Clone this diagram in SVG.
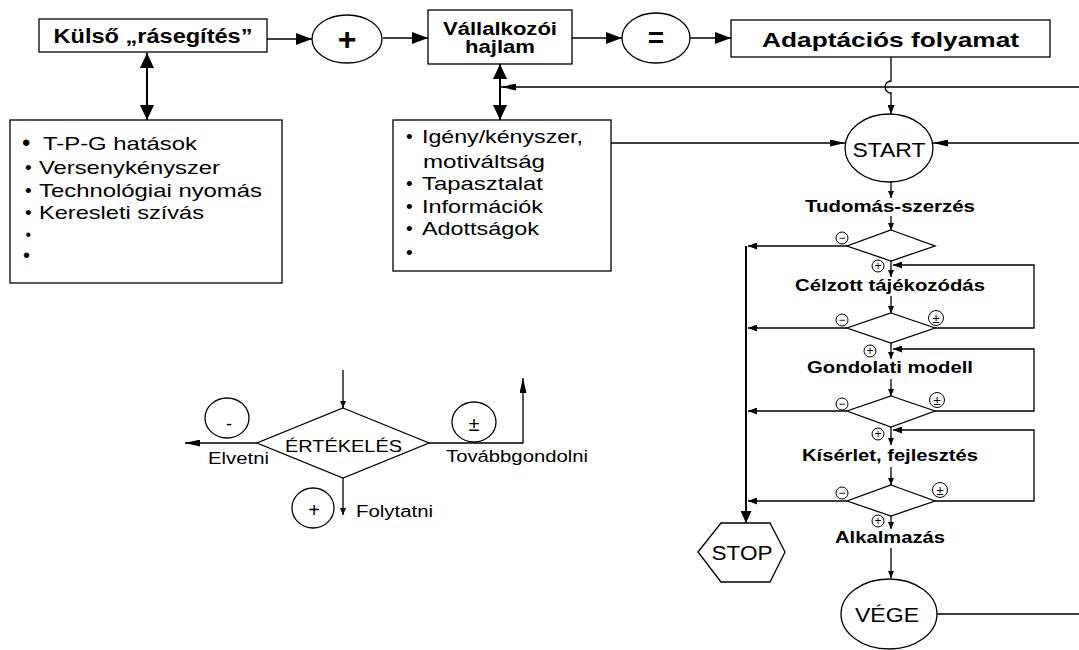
<svg xmlns="http://www.w3.org/2000/svg" width="1079" height="650" viewBox="0 0 1079 650">
<style>
text{font-family:"Liberation Sans",Arial,sans-serif;fill:#000}
.b{font-weight:bold}
.m{text-anchor:middle}
.shape{fill:#fff;stroke:#000;stroke-width:1.3}
.ln{fill:none;stroke:#000;stroke-width:1.3}
.thk{fill:none;stroke:#000;stroke-width:2}
.sc{fill:#fff;stroke:#000;stroke-width:1}
.st{font-size:12px;text-anchor:middle}
</style>
<defs>
<marker id="big" viewBox="0 0 16 12" refX="16" refY="6" markerWidth="16" markerHeight="12" markerUnits="userSpaceOnUse" orient="auto-start-reverse"><path d="M0,0 L16,6 L0,12 z"/></marker>
<marker id="dbl" viewBox="0 0 15 14" refX="15" refY="7" markerWidth="15" markerHeight="14" markerUnits="userSpaceOnUse" orient="auto-start-reverse"><path d="M0,0 L15,7 L0,14 z"/></marker>
<marker id="long" viewBox="0 0 15 7" refX="15" refY="3.5" markerWidth="15" markerHeight="7" markerUnits="userSpaceOnUse" orient="auto-start-reverse"><path d="M0,0 L15,3.5 L0,7 z"/></marker>
<marker id="med" viewBox="0 0 9 7" refX="9" refY="3.5" markerWidth="9" markerHeight="7" markerUnits="userSpaceOnUse" orient="auto-start-reverse"><path d="M0,0 L9,3.5 L0,7 z"/></marker>
<marker id="sm" viewBox="0 0 7 6" refX="7" refY="3" markerWidth="7" markerHeight="6" markerUnits="userSpaceOnUse" orient="auto-start-reverse"><path d="M0,0 L7,3 L0,6 z"/></marker>
<marker id="stopm" viewBox="0 0 12 11" refX="12" refY="5.5" markerWidth="12" markerHeight="11" markerUnits="userSpaceOnUse" orient="auto-start-reverse"><path d="M0,0 L12,5.5 L0,11 z"/></marker>
</defs>

<g id="connectors">
<line class="ln" x1="267" y1="39" x2="312" y2="39" marker-end="url(#big)"/>
<line class="ln" x1="383" y1="38" x2="428" y2="38" marker-end="url(#big)"/>
<line class="ln" x1="572" y1="38" x2="622" y2="38" marker-end="url(#big)"/>
<line class="ln" x1="690" y1="38" x2="731" y2="38" marker-end="url(#big)"/>
<path class="ln" d="M891,57 V81 A6,6 0 0,0 891,93 V114" marker-end="url(#med)"/>
<path class="ln" d="M1079,87 H501" marker-end="url(#long)"/>
<line class="thk" x1="147" y1="53" x2="147" y2="120" marker-start="url(#dbl)" marker-end="url(#dbl)"/>
<line class="thk" x1="500" y1="64" x2="500" y2="120" marker-start="url(#dbl)" marker-end="url(#dbl)"/>
<line class="ln" x1="611" y1="143" x2="845" y2="143" marker-end="url(#long)"/>
<line class="ln" x1="1079" y1="143" x2="933" y2="143" marker-end="url(#long)"/>
<line class="ln" x1="891" y1="182" x2="891" y2="198" marker-end="url(#sm)"/>
<line class="ln" x1="891" y1="216" x2="891" y2="230" marker-end="url(#sm)"/>
<line class="ln" x1="891" y1="261" x2="891" y2="277" marker-end="url(#sm)"/>
<line class="ln" x1="891" y1="296" x2="891" y2="313" marker-end="url(#sm)"/>
<line class="ln" x1="891" y1="343" x2="891" y2="359" marker-end="url(#sm)"/>
<line class="ln" x1="891" y1="379" x2="891" y2="396" marker-end="url(#sm)"/>
<line class="ln" x1="891" y1="427" x2="891" y2="445" marker-end="url(#sm)"/>
<line class="ln" x1="891" y1="467" x2="891" y2="485" marker-end="url(#sm)"/>
<line class="ln" x1="891" y1="516" x2="891" y2="529" marker-end="url(#sm)"/>
<line class="ln" x1="891" y1="548" x2="891" y2="578" marker-end="url(#sm)"/>
<path class="ln" d="M847,246 H748" marker-end="url(#med)"/>
<path class="ln" d="M847,328 H748" marker-end="url(#med)"/>
<path class="ln" d="M847,411 H748" marker-end="url(#med)"/>
<path class="ln" d="M847,501 H748" marker-end="url(#med)"/>
<path class="thk" d="M746,246 V523" marker-end="url(#stopm)"/>
<path class="ln" d="M935,328 H1034 V265 H893" marker-end="url(#med)"/>
<path class="ln" d="M935,411 H1034 V349 H893" marker-end="url(#med)"/>
<path class="ln" d="M935,501 H1034 V430 H893" marker-end="url(#med)"/>
<path class="ln" d="M937,614 H1079"/>
<path class="ln" d="M343,370 V408" marker-end="url(#sm)"/>
<path class="ln" d="M257,443 H185" marker-end="url(#long)"/>
<path class="ln" d="M429,443 H523 V378" marker-end="url(#long)"/>
<path class="ln" d="M343,478 V515" marker-end="url(#sm)"/>
</g>

<g id="n-kulso">
<rect class="shape" x="39" y="19" width="228" height="33"/>
<text class="b m" x="153" y="43" font-size="19.5" textLength="199" lengthAdjust="spacingAndGlyphs">Külső „rásegítés”</text>
</g>
<g id="n-plus">
<ellipse class="shape" cx="347" cy="39" rx="35" ry="24"/>
<text class="b m" x="347" y="50" font-size="32">+</text>
</g>
<g id="n-vallalkozoi">
<rect class="shape" x="428" y="10" width="144" height="54"/>
<text class="b m" x="500" y="35" font-size="18" textLength="114" lengthAdjust="spacingAndGlyphs">Vállalkozói</text>
<text class="b m" x="500" y="53" font-size="18" textLength="70" lengthAdjust="spacingAndGlyphs">hajlam</text>
</g>
<g id="n-equals">
<ellipse class="shape" cx="656" cy="38" rx="34" ry="25"/>
<text class="b m" x="656" y="47" font-size="28">=</text>
</g>
<g id="n-adaptacios">
<rect class="shape" x="731" y="20" width="319" height="37"/>
<text class="b m" x="890.5" y="47" font-size="21" textLength="257" lengthAdjust="spacingAndGlyphs">Adaptációs folyamat</text>
</g>

<g id="n-kulso-list">
<rect class="shape" x="10" y="120" width="272" height="163"/>
<text x="22" y="151" font-size="24">•</text>
<text x="43" y="150" font-size="19" textLength="154" lengthAdjust="spacingAndGlyphs">T-P-G hatások</text>
<text x="25" y="174" font-size="19">•</text>
<text x="39" y="174" font-size="19" textLength="181" lengthAdjust="spacingAndGlyphs">Versenykényszer</text>
<text x="25" y="197" font-size="19">•</text>
<text x="39" y="197" font-size="19" textLength="223" lengthAdjust="spacingAndGlyphs">Technológiai nyomás</text>
<text x="25" y="219" font-size="19">•</text>
<text x="39" y="219" font-size="19" textLength="165" lengthAdjust="spacingAndGlyphs">Keresleti szívás</text>
<text x="25.5" y="240" font-size="16">•</text>
<text x="23" y="262" font-size="20">•</text>
</g>

<g id="n-hajlam-list">
<rect class="shape" x="393" y="120" width="218" height="151"/>
<text x="406" y="143" font-size="19">•</text>
<text x="422" y="143" font-size="19" textLength="161" lengthAdjust="spacingAndGlyphs">Igény/kényszer,</text>
<text x="423" y="168" font-size="19" textLength="122" lengthAdjust="spacingAndGlyphs">motiváltság</text>
<text x="406" y="190" font-size="19">•</text>
<text x="422" y="190" font-size="19" textLength="121" lengthAdjust="spacingAndGlyphs">Tapasztalat</text>
<text x="406" y="213" font-size="19">•</text>
<text x="422" y="213" font-size="19" textLength="121" lengthAdjust="spacingAndGlyphs">Információk</text>
<text x="406" y="235" font-size="19">•</text>
<text x="422" y="235" font-size="19" textLength="117" lengthAdjust="spacingAndGlyphs">Adottságok</text>
<text x="406" y="259" font-size="19">•</text>
</g>

<g id="n-start">
<ellipse class="shape" cx="889" cy="148" rx="44" ry="34"/>
<text class="m" x="889" y="157" font-size="20" textLength="73" lengthAdjust="spacingAndGlyphs">START</text>
</g>
<g id="n-tudomas">
<text class="b m" x="890" y="212" font-size="16.5" textLength="170" lengthAdjust="spacingAndGlyphs">Tudomás-szerzés</text>
</g>
<g id="n-d1">
<polygon class="shape" points="891,230 935,246 891,261 847,246"/>
<circle class="sc" cx="842" cy="238" r="6"/><text class="st" x="842" y="242">−</text>
<circle class="sc" cx="878" cy="266" r="6"/><text class="st" x="878" y="270">+</text>
</g>
<g id="n-celzott">
<text class="b m" x="890" y="291" font-size="16.5" textLength="190" lengthAdjust="spacingAndGlyphs">Célzott tájékozódás</text>
</g>
<g id="n-d2">
<polygon class="shape" points="891,313 935,328 891,343 847,328"/>
<circle class="sc" cx="842" cy="320" r="6"/><text class="st" x="842" y="324">−</text>
<circle class="sc" cx="936" cy="318" r="7.5"/><text class="m" x="936" y="323" font-size="13">±</text>
<circle class="sc" cx="870" cy="351" r="6"/><text class="st" x="870" y="355">+</text>
</g>
<g id="n-gondolati">
<text class="b m" x="890" y="373" font-size="16.5" textLength="166" lengthAdjust="spacingAndGlyphs">Gondolati modell</text>
</g>
<g id="n-d3">
<polygon class="shape" points="891,396 935,411 891,427 847,411"/>
<circle class="sc" cx="842" cy="404" r="6"/><text class="st" x="842" y="408">−</text>
<circle class="sc" cx="937" cy="400" r="7.5"/><text class="m" x="937" y="405" font-size="13">±</text>
<circle class="sc" cx="878" cy="434" r="6"/><text class="st" x="878" y="438">+</text>
</g>
<g id="n-kiserlet">
<text class="b m" x="890" y="461" font-size="16.5" textLength="176" lengthAdjust="spacingAndGlyphs">Kísérlet, fejlesztés</text>
</g>
<g id="n-d4">
<polygon class="shape" points="891,485 935,501 891,516 847,501"/>
<circle class="sc" cx="842" cy="493" r="6"/><text class="st" x="842" y="497">−</text>
<circle class="sc" cx="940" cy="490" r="7.5"/><text class="m" x="940" y="495" font-size="13">±</text>
<circle class="sc" cx="878" cy="521" r="6"/><text class="st" x="878" y="525">+</text>
</g>
<g id="n-alkalmazas">
<text class="b m" x="890" y="543" font-size="16.5" textLength="110" lengthAdjust="spacingAndGlyphs">Alkalmazás</text>
</g>
<g id="n-stop">
<polygon class="shape" points="698,552 721,523 770,523 785,552 770,582 721,582"/>
<text class="m" x="742" y="560" font-size="20" textLength="61" lengthAdjust="spacingAndGlyphs">STOP</text>
</g>
<g id="n-vege">
<ellipse class="shape" cx="889" cy="614" rx="48" ry="35"/>
<text class="m" x="887" y="622" font-size="20" textLength="64" lengthAdjust="spacingAndGlyphs">VÉGE</text>
</g>

<g id="n-ertekeles">
<polygon class="shape" points="343,408 429,443 343,478 257,443"/>
<text class="m" x="343.5" y="452" font-size="16" textLength="117" lengthAdjust="spacingAndGlyphs">ÉRTÉKELÉS</text>
</g>
<g id="n-minus-legend">
<ellipse class="shape" cx="227" cy="418" rx="22" ry="20"/>
<text class="m" x="229" y="430" font-size="18">-</text>
<text x="208" y="464" font-size="16" textLength="61" lengthAdjust="spacingAndGlyphs">Elvetni</text>
</g>
<g id="n-pm-legend">
<ellipse class="shape" cx="474" cy="422" rx="22" ry="20"/>
<text class="m" x="474" y="431" font-size="20">±</text>
<text x="446" y="462" font-size="16" textLength="142" lengthAdjust="spacingAndGlyphs">Továbbgondolni</text>
</g>
<g id="n-plus-legend">
<ellipse class="shape" cx="313" cy="508" rx="21" ry="20"/>
<text class="m" x="314" y="517" font-size="20">+</text>
<text x="356" y="517" font-size="16" textLength="77" lengthAdjust="spacingAndGlyphs">Folytatni</text>
</g>
</svg>
